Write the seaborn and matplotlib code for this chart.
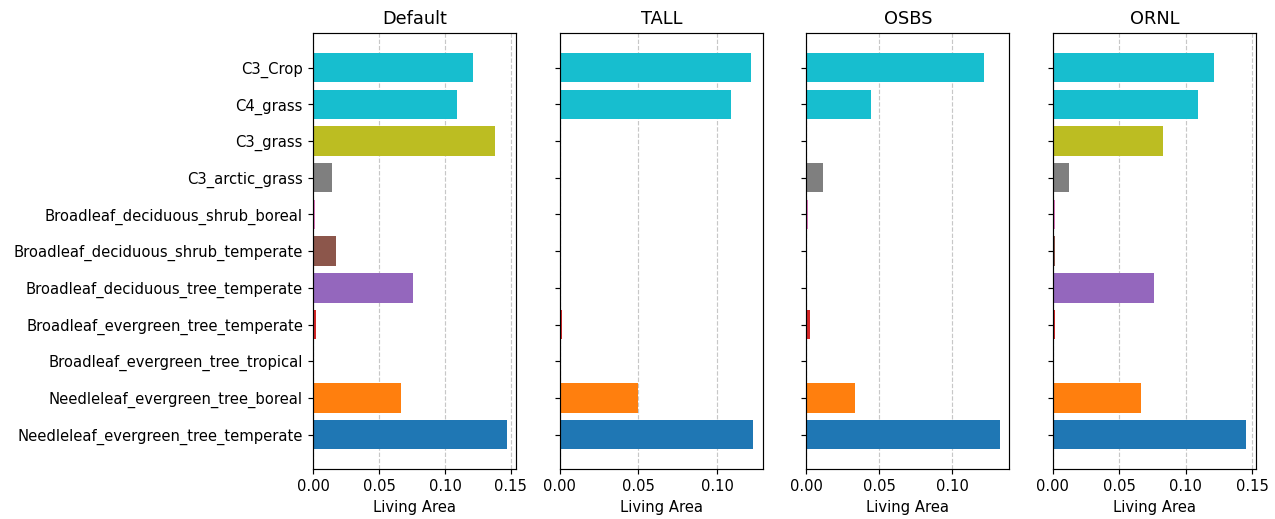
import seaborn as sns
import numpy as np
import pandas as pd
import matplotlib
matplotlib.use("Agg")
import matplotlib.pyplot as plt

#plant functional types, top to bottom as drawn
pfts = ["C3_Crop", "C4_grass", "C3_grass", "C3_arctic_grass",
        "Broadleaf_deciduous_shrub_boreal", "Broadleaf_deciduous_shrub_temperate",
        "Broadleaf_deciduous_tree_temperate", "Broadleaf_evergreen_tree_temperate",
        "Broadleaf_evergreen_tree_tropical", "Needleleaf_evergreen_tree_boreal",
        "Needleleaf_evergreen_tree_temperate"]

#living area per site (same order as pfts)
default_vals = [0.1216, 0.1094, 0.138, 0.0139, 0.001, 0.0172, 0.076, 0.0018, 0.0, 0.0663, 0.1469]
tall_vals    = [0.1217, 0.1091, 0.0, 0.0, 0.0, 0.0, 0.0, 0.0017, 0.0, 0.05, 0.123]
osbs_vals    = [0.1217, 0.0445, 0.0, 0.0114, 0.0011, 0.0, 0.0, 0.0025, 0.0, 0.0333, 0.1327]
ornl_vals    = [0.1213, 0.1093, 0.0827, 0.0125, 0.0013, 0.002, 0.0762, 0.002, 0.0, 0.0667, 0.1456]

sites = ["Default", "TALL", "OSBS", "ORNL"]
site_vals = [default_vals, tall_vals, osbs_vals, ornl_vals]

#tab10 spread over 11 bars (bottom bar gets the first colour)
cols = plt.cm.tab10(np.linspace(0, 1, len(pfts)))[::-1]
palette = dict(zip(pfts, [tuple(c) for c in cols]))

#figure is a bit smaller at a higher dpi -> 1275x519 px
fig, axes = plt.subplots(1, 4, figsize=(12, 4.885), dpi=106.25, sharey=True)

for ax, site, vals in zip(axes, sites, site_vals):
    df = pd.DataFrame({"pft": pfts, "area": vals})
    sns.barplot(data=df, x="area", y="pft", hue="pft", palette=palette,
                order=pfts, orient="h", saturation=1, width=0.8,
                linewidth=0, legend=False, ax=ax)
    ax.set_title(site, fontsize=12)
    ax.set_xlabel("Living Area")
    ax.set_ylabel("")
    ax.grid(axis="x", linestyle="--", alpha=0.7)
    ax.set_axisbelow(True)
    ax.set_xlim(0, max(vals) * 1.05)
    ax.set_ylim(10.94, -0.94)
    ax.set_xticks([t for t in [0, 0.05, 0.10, 0.15] if t <= max(vals) * 1.05])
    ax.set_xticklabels([f"{t:.2f}" for t in ax.get_xticks()])

fig.subplots_adjust(left=0.2457, right=0.9851, top=0.9358, bottom=0.0963, wspace=0.213)
plt.savefig("out.png", dpi=106.25)
